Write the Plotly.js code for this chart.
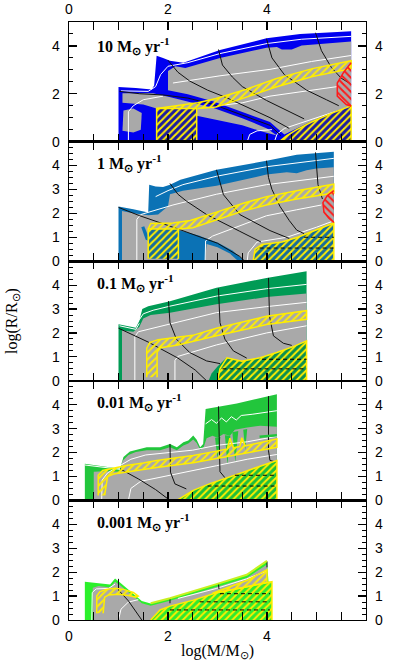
<!DOCTYPE html>
<html><head><meta charset="utf-8">
<script src="https://cdn.plot.ly/plotly-3.0.1.min.js"></script>
<style>html,body{margin:0;padding:0;background:#fff}#chart{width:407px;height:667px}</style>
</head><body><div id="chart"></div>
<script>
// ================= DATA (log M, log R) =================
const rateLabels = ['10', '1', '0.1', '0.01', '0.001'];
const xTickVals = [0, 2, 4];
const yTickValsTop = [0, 2, 4];
const yTickVals = [0, 1, 2, 3, 4];

// ---- panel 1 : 10 Msun/yr ----
const P1_ENV = [[1.0,0],[1.0,2.28],[1.35,2.24],[1.67,2.18],[1.72,2.35],[1.77,3.59],[1.9,3.5],[2.04,3.38],[2.31,3.30],[3.05,3.83],[3.99,4.32],[4.67,4.50],[5.70,4.61],[5.70,0]];
const P1_GRAY_UP = [[2.0,2.15],[2.0,2.95],[2.15,3.15],[2.35,3.08],[3.05,3.5],[3.99,3.92],[4.2,3.95],[4.3,3.85],[4.5,3.85],[4.7,4.02],[5.7,4.18],[5.7,1.5],[5.3,1.2],[4.9,0.85],[4.6,0.55],[4.35,0.3],[4.06,0.82],[3.5,1.25],[2.92,1.68],[2.4,1.98]];
const P1_GRAY_LOW = [[1.08,2.02],[1.7,2.02],[2.05,1.85],[2.4,1.68],[2.92,1.4],[3.5,0.98],[4.0,0.55],[4.2,0.25],[3.9,0.42],[3.5,0.68],[3.0,0.9],[2.58,1.08],[2.58,1.38],[1.77,1.38],[1.5,1.55],[1.08,1.62]];
const P1_GRAY_PATCH = [[1.08,0.45],[1.1,1.3],[1.3,1.38],[1.47,1.2],[1.45,0.5],[1.3,0.38]];
const P1_CORE_L = [[1.77,0],[1.77,1.38],[2.58,1.38],[2.58,0]];
const P1_CORE_R = [[4.25,0],[4.4,0.25],[4.6,0.5],[4.9,0.82],[5.3,1.18],[5.7,1.5],[5.7,0]];
const P1_BAND = [[1.77,1.38],[2.2,1.5],[2.6,1.62],[2.97,1.8],[3.57,2.18],[4.18,2.63],[4.92,3.05],[5.7,3.38],[5.7,3.05],[4.92,2.72],[4.18,2.28],[3.57,1.85],[2.97,1.45],[2.6,1.38]];
const P1_RED = [[5.7,3.3],[5.55,2.9],[5.42,2.45],[5.42,1.9],[5.6,1.55],[5.7,1.48]];
const P1_WHITE = [
  [[1.05,2.12],[1.6,2.1],[1.75,2.3],[1.85,2.8],[2.0,3.15],[2.4,3.3],[3.05,3.68],[4.0,4.1],[4.7,4.28],[5.7,4.4]],
  [[2.1,2.45],[3.05,2.75],[4.06,3.02],[4.9,3.35],[5.7,3.6]],
  [[3.0,1.5],[3.5,1.62],[4.06,1.9],[4.9,2.15],[5.42,2.3]],
  [[1.2,0],[1.2,1.25],[1.3,1.5],[1.5,1.75],[1.9,1.9]],
  [[4.15,0],[4.2,0.3],[4.35,0.55],[4.6,0.72],[5.0,1.0],[5.4,1.27]],
  [[3.6,0],[3.65,0.3],[3.8,0.45],[4.1,0.5]]
];
const P1_BLACK = [
  [[1.02,2.1],[1.43,2.0],[1.9,1.95],[2.4,1.82],[2.92,1.55],[3.6,1.05],[4.06,0.68],[4.28,0.25]],
  [[2.0,3.4],[2.2,2.9],[2.44,2.53],[2.8,2.15],[3.19,1.83],[3.6,1.45],[4.06,1.0],[4.45,0.55]],
  [[3.02,3.85],[3.1,3.2],[3.3,2.7],[3.5,2.3],[3.99,1.72],[4.4,1.3],[4.75,0.95]],
  [[3.99,4.3],[4.1,3.5],[4.35,2.8],[4.8,2.15],[5.2,1.75],[5.45,1.5]],
  [[4.98,4.55],[5.1,3.8],[5.3,3.1],[5.5,2.65],[5.7,2.4]]
];

// ---- panel 2 : 1 Msun/yr ----
const P2_ENV = [[1.0,0],[1.0,2.29],[1.3,2.17],[1.6,2.04],[1.62,3.2],[1.75,3.12],[1.9,3.1],[2.04,3.2],[2.25,3.4],[2.98,3.82],[3.99,4.2],[4.6,4.45],[5.35,4.58],[5.35,0]];
const P2_GRAY = [[1.07,0],[1.07,2.1],[1.3,2.0],[1.6,1.92],[1.8,1.95],[2.0,2.3],[2.04,2.8],[2.3,2.95],[2.98,3.15],[3.99,3.62],[4.4,3.72],[4.6,3.68],[4.8,3.8],[5.0,3.88],[5.35,3.93],[5.35,0]];
const P2_BLUE_WEDGE = [[2.21,1.3],[2.6,1.08],[3.0,0.78],[3.3,0.45],[3.55,0.0],[2.21,0.0]];
const P2_BLUE_SLIVER = [[1.46,1.42],[1.52,1.46],[1.6,1.05],[1.6,0.85],[1.55,0.9]];
const P2_GRAY_WEDGE = [[2.75,0],[2.78,0.72],[3.0,0.58],[3.25,0.32],[3.42,0.0]];
const P2_CORE_L = [[1.6,0.1],[1.6,1.35],[2.21,1.35],[2.21,0.1]];
const P2_CORE_R = [[3.72,0],[3.76,0.5],[3.9,0.7],[4.3,0.8],[4.62,1.0],[5.0,1.3],[5.35,1.6],[5.35,0]];
const P2_BAND = [[1.6,1.35],[1.65,1.58],[2.1,1.6],[2.45,1.7],[2.98,2.05],[3.52,2.42],[3.99,2.7],[4.6,2.95],[5.35,3.22],[5.35,2.85],[4.6,2.6],[3.99,2.35],[3.52,2.1],[2.98,1.72],[2.5,1.4],[2.21,1.35]];
const P2_RED = [[5.35,2.95],[5.22,2.75],[5.13,2.45],[5.15,2.05],[5.25,1.8],[5.35,1.62]];
const P2_WHITE = [
  [[1.75,2.7],[2.0,2.95],[2.3,3.2],[2.98,3.55],[3.99,3.95],[5.35,4.3]],
  [[1.37,0],[1.37,1.75],[1.45,1.95],[1.7,2.1],[2.1,2.35],[2.98,2.8],[3.99,3.2],[5.35,3.55]],
  [[2.75,0],[2.76,0.85],[2.9,1.05],[3.3,1.35],[3.99,1.9],[4.6,2.15],[5.1,2.35]],
  [[3.6,0],[3.62,0.35],[3.8,0.8],[4.4,1.0],[5.0,1.42],[5.3,1.65]]
];
const P2_BLACK = [
  [[1.0,2.25],[1.43,1.9],[2.2,1.35],[3.0,0.75],[3.45,0.2],[3.55,0.0]],
  [[2.04,3.25],[2.2,2.8],[2.38,2.5],[2.78,1.95],[3.45,1.25],[3.88,0.8]],
  [[2.98,3.82],[3.05,3.3],[3.12,2.78],[3.45,1.95],[4.06,1.28],[4.45,0.95]],
  [[3.99,4.2],[4.03,3.5],[4.1,3.0],[4.26,2.3],[4.45,1.7],[4.6,1.3],[4.75,1.15]],
  [[4.98,4.55],[5.0,3.8],[5.03,3.2],[5.12,2.6]]
];
const P2_DASHED = [[[4.75,1.0],[5.35,1.0]], [[3.85,0.55],[5.35,0.55]]];

// ---- panel 3 : 0.1 Msun/yr ----
const P3_ENV = [[1.0,0],[1.0,2.36],[1.2,2.28],[1.35,2.22],[1.42,2.5],[1.48,3.0],[1.6,3.12],[2.04,3.33],[2.98,3.89],[3.99,4.3],[4.8,4.58],[4.8,0]];
const P3_GRAY = [[1.07,0],[1.07,2.1],[1.3,2.05],[1.42,2.25],[1.5,2.6],[1.65,2.75],[2.04,2.85],[2.98,3.2],[3.99,3.5],[4.8,3.65],[4.8,0]];
const P3_GREEN = [[2.82,0],[2.88,0.3],[3.0,0.6],[3.19,0.98],[3.19,0]];
const P3_CORE = [[3.0,0],[3.05,0.5],[3.19,0.96],[3.3,0.92],[3.49,0.82],[3.86,0.96],[4.2,1.18],[4.53,1.43],[4.8,1.67],[4.8,0]];
const P3_BAND = [[1.57,0.15],[1.57,1.35],[1.63,1.6],[1.8,1.72],[2.5,1.9],[2.98,2.2],[3.99,2.7],[4.8,2.93],[4.8,2.57],[3.99,2.35],[2.98,1.88],[2.2,1.5],[1.85,1.38],[1.78,1.2],[1.78,0.15]];
const P3_WHITE = [
  [[1.42,2.55],[1.5,2.8],[1.7,2.95],[2.04,3.12],[2.98,3.54],[3.99,3.85],[4.8,4.03]],
  [[1.33,0],[1.33,1.85],[1.4,2.05],[1.6,2.15],[2.04,2.4],[2.98,2.85],[3.99,3.1],[4.8,3.28]],
  [[2.14,0],[2.14,0.85],[2.2,1.02],[2.5,1.2],[2.98,1.5],[3.99,2.0],[4.8,2.3]],
  [[1.02,2.3],[1.35,2.15],[1.42,2.4]]
];
const P3_BLACK = [
  [[1.0,2.2],[1.6,1.62],[2.2,0.95],[2.55,0.45],[2.78,0.0]],
  [[2.01,3.33],[2.04,2.43],[2.17,1.74],[2.44,1.18],[2.78,0.83],[3.05,0.72]],
  [[3.02,3.86],[3.05,2.43],[3.15,1.74],[3.32,1.25],[3.59,0.95]],
  [[4.03,4.3],[4.05,2.71],[4.13,1.88],[4.33,1.57],[4.5,1.48]]
];
const P3_DASHED = [[[3.9,0.9],[4.8,0.9]], [[3.1,0.5],[4.8,0.5]]];

// ---- panel 4 : 0.01 Msun/yr ----
const P4_ENV = [[0.32,0],[0.32,1.53],[1.03,1.32],[1.1,1.81],[1.23,2.04],[1.57,2.22],[1.84,2.22],[2.04,2.36],[2.18,2.22],[2.31,2.43],[2.41,2.5],[2.51,2.71],[2.58,2.54],[2.65,2.22],[2.71,2.36],[2.76,3.82],[3.39,4.05],[4.2,4.44],[4.2,0]];
const P4_GRAY = [[0.5,0],[0.5,1.2],[0.7,1.22],[1.03,1.2],[1.08,1.65],[1.2,1.9],[1.35,2.02],[1.57,2.1],[1.84,2.1],[2.04,2.22],[2.18,2.1],[2.31,2.3],[2.41,2.38],[2.51,2.55],[2.58,2.4],[2.65,2.12],[2.72,2.22],[2.78,2.6],[2.9,2.7],[3.0,2.62],[3.12,2.78],[3.25,2.7],[3.35,2.95],[3.45,2.99],[3.6,3.05],[3.86,3.12],[4.2,3.08],[4.2,0]];
const P4_SPIKES = [
  [[2.95,2.62],[3.0,1.75],[3.06,2.65]],
  [[3.15,2.72],[3.2,1.5],[3.26,2.7]],
  [[3.3,2.85],[3.36,1.6],[3.42,2.9]],
  [[3.52,2.95],[3.56,2.1],[3.6,2.98]]
];
const P4_GREEN_LINE = [[3.85,2.66],[4.2,2.72]];
const P4_CORE = [[2.18,0],[2.51,0.42],[2.85,0.7],[3.19,0.93],[3.52,1.18],[3.86,1.43],[4.2,1.67],[4.2,0]];
const P4_BAND = [[0.59,0.21],[0.59,1.05],[0.68,1.25],[0.9,1.35],[1.16,1.46],[1.5,1.56],[1.77,1.67],[2.1,1.76],[2.51,1.88],[2.98,2.06],[3.2,2.15],[3.25,2.6],[3.32,2.2],[3.45,2.25],[3.49,2.62],[3.56,2.28],[3.9,2.45],[4.2,2.57],[4.2,2.22],[3.59,1.98],[2.98,1.76],[2.51,1.57],[1.77,1.38],[1.16,1.18],[0.9,1.1],[0.78,1.0],[0.72,0.21]];
const P4_WHITE = [
  [[2.76,3.2],[2.88,3.38],[2.98,3.22],[3.08,3.45],[3.18,3.28],[3.28,3.5],[3.38,3.36],[3.48,3.55],[3.7,3.6],[4.2,3.75]],
  [[0.32,1.48],[1.03,1.3]],
  [[0.66,0],[0.67,0.85],[0.78,1.15],[1.0,1.4],[1.25,1.72],[1.55,1.9],[2.0,1.98],[2.5,2.1],[2.98,2.3],[3.6,2.45],[4.2,2.68]],
  [[1.2,0],[1.25,0.5],[1.45,0.8],[1.9,1.0],[2.5,1.25],[2.98,1.45],[3.6,1.72],[4.2,1.92]]
];
const P4_BLACK = [
  [[1.03,1.32],[1.4,0.9],[1.75,0.45],[2.04,0.0]],
  [[2.04,2.36],[2.05,1.18],[2.14,0.69],[2.37,0.48]],
  [[3.02,3.93],[3.03,2.5],[3.05,1.2],[3.15,0.95]],
  [[4.03,4.36],[4.03,2.08],[4.06,1.67],[4.15,1.62]]
];
const P4_DASHED = [[[2.8,0.6],[4.2,0.6]], [[3.35,1.05],[4.2,1.05]]];

// ---- panel 5 : 0.001 Msun/yr ----
const P5_ENV = [[0.32,0],[0.32,1.6],[0.83,1.48],[0.93,1.74],[1.03,1.57],[1.47,0.79],[1.65,0.69],[2.04,0.9],[2.98,1.49],[3.59,1.88],[4.0,2.46],[4.03,1.6],[4.1,1.6],[4.1,0]];
const P5_GRAY = [[0.48,0],[0.48,1.35],[0.6,1.42],[0.83,1.36],[0.93,1.6],[1.03,1.45],[1.47,0.7],[1.65,0.6],[2.04,0.8],[2.98,1.38],[3.59,1.76],[4.0,2.32],[4.0,0]];
const P5_CORE = [[1.65,0],[1.84,0.42],[2.04,0.58],[2.51,0.83],[2.98,1.14],[3.59,1.39],[4.0,1.57],[4.1,1.6],[4.1,0]];
const P5_BAND_R = [[2.9,1.12],[3.59,1.65],[4.0,2.1],[4.0,1.57],[3.59,1.39],[2.98,1.14]];
const P5_BAND_L = [[0.56,0.28],[0.56,1.0],[0.62,1.18],[0.75,1.28],[0.93,1.33],[1.1,1.28],[1.3,1.15],[1.4,1.0],[1.35,0.95],[1.2,1.02],[1.0,1.08],[0.8,1.05],[0.72,0.95],[0.69,0.28]];
const P5_TOPLINE = [[1.65,0.7],[2.04,0.91],[2.98,1.5],[3.59,1.89],[4.0,2.47]];
const P5_WHITE = [
  [[0.46,0],[0.47,1.15],[0.55,1.3],[0.8,1.32],[0.93,1.5]],
  [[2.2,0.9],[2.98,1.32],[3.59,1.72],[4.0,2.05]],
  [[1.0,0],[1.05,0.45],[1.2,0.75],[1.4,0.85]]
];
const P5_BLACK = [
  [[1.0,1.72],[1.0,1.25],[1.2,0.8],[1.47,0.0]],
  [[2.04,0.88],[2.04,0.7]],
  [[3.02,1.5],[3.03,1.3]],
  [[4.0,2.45],[4.0,2.2]]
];
const P5_DASHED = [[[3.05,1.1],[4.06,1.1]], [[2.64,0.76],[4.06,0.76]], [[2.04,0.42],[4.06,0.42]]];

// ================= STYLE =================
const ENV_COLORS = ['#0000f0', '#0b72b5', '#009b55', '#22c63c', '#2bf02b'];
const CORE_BG = ['#1c1ca0', '#166c9c', '#0a8f50', '#1fbf39', '#30ea30'];
const GRAY = '#a9a9a9';
const YEL = '#ffee00';
const RED = '#ff1a1a';
const SERIF = '"Liberation Serif", "Times New Roman", serif';
const SANS = '"Liberation Sans", Arial, Helvetica, sans-serif';

function axn(i) { return {x: i === 0 ? 'x' : 'x' + (i + 1), y: i === 0 ? 'y' : 'y' + (i + 1)}; }
const traces = [];
function add(pts, i, style) {
  const a = axn(i);
  const t = {type: 'scatter', mode: 'lines', x: pts.map(p => p[0]), y: pts.map(p => p[1]),
    xaxis: a.x, yaxis: a.y, hoverinfo: 'skip', showlegend: false};
  Object.assign(t, style);
  traces.push(t);
}
const solid = c => ({fill: 'toself', fillcolor: c, line: {width: 0, color: c}});
function hatch(fg, bg, outline, shape) {
  const fp = {shape: shape, fgcolor: fg, size: 5, solidity: 0.4};
  if (bg) fp.bgcolor = bg;
  return {fill: 'toself', fillcolor: bg || 'rgba(0,0,0,0)', fillpattern: fp, line: {width: 1.5, color: outline}};
}
const wline = {line: {color: '#ffffff', width: 1}};
const bline = {line: {color: '#111111', width: 1}};
const dline = {line: {color: '#000000', width: 1, dash: '4px,3px'}};

const PANELS = [
  {env: P1_ENV, grays: [P1_GRAY_UP, P1_GRAY_LOW, P1_GRAY_PATCH], extra: [], extraGray: [], white: P1_WHITE, black: P1_BLACK,
   cores: [P1_CORE_L, P1_CORE_R], bands: [P1_BAND], red: [P1_RED], dashed: []},
  {env: P2_ENV, grays: [P2_GRAY], extra: [P2_BLUE_WEDGE, P2_BLUE_SLIVER], extraGray: [P2_GRAY_WEDGE], white: P2_WHITE, black: P2_BLACK,
   cores: [P2_CORE_L, P2_CORE_R], bands: [P2_BAND], red: [P2_RED], dashed: P2_DASHED},
  {env: P3_ENV, grays: [P3_GRAY], extra: [P3_GREEN], extraGray: [], white: P3_WHITE, black: P3_BLACK,
   cores: [P3_CORE], bands: [P3_BAND], red: [], dashed: P3_DASHED},
  {env: P4_ENV, grays: [P4_GRAY], extra: P4_SPIKES, extraGray: [], white: P4_WHITE, black: P4_BLACK,
   cores: [P4_CORE], bands: [P4_BAND], red: [], dashed: P4_DASHED},
  {env: P5_ENV, grays: [P5_GRAY], extra: [], extraGray: [], white: P5_WHITE, black: P5_BLACK,
   cores: [P5_CORE], bands: [P5_BAND_L, P5_BAND_R], red: [], dashed: P5_DASHED}
];

PANELS.forEach((p, i) => {
  add(p.env, i, solid(ENV_COLORS[i]));
  p.grays.forEach(g => add(g, i, solid(GRAY)));
  p.extra.forEach(g => add(g, i, solid(ENV_COLORS[i])));
  p.extraGray.forEach(g => add(g, i, solid(GRAY)));
  p.white.forEach(l => add(l, i, wline));
  p.black.forEach(l => add(l, i, bline));
  p.cores.forEach(c => add(c, i, hatch(YEL, CORE_BG[i], YEL, '/')));
  p.bands.forEach(b => add(b, i, hatch(YEL, null, YEL, '/')));
  p.red.forEach(r => add(r, i, hatch(RED, null, RED, '\\')));
  p.dashed.forEach(d => add(d, i, dline));
  if (i === 3) add(P4_GREEN_LINE, i, {line: {color: ENV_COLORS[3], width: 2.5}});
  if (i === 4) add(P5_TOPLINE, i, {line: {color: '#c8f020', width: 2}});
  // dummy trace for right-hand label axis
  traces.push({type: 'scatter', mode: 'markers', x: [null], y: [null], xaxis: axn(i).x, yaxis: 'y' + (6 + i), hoverinfo: 'skip', showlegend: false});
});

const layout = {
  width: 407, height: 667, margin: {l: 69, r: 41, t: 22, b: 47},
  paper_bgcolor: '#ffffff', plot_bgcolor: '#ffffff', showlegend: false,
  font: {family: SANS, size: 14, color: '#000'},
  annotations: []
};
PANELS.forEach((p, i) => {
  const a = axn(i);
  const xk = i === 0 ? 'xaxis' : 'xaxis' + (i + 1);
  const yk = i === 0 ? 'yaxis' : 'yaxis' + (i + 1);
  const ylab = i === 0 ? yTickValsTop : yTickVals;
  layout[xk] = {
    domain: [0, 1], anchor: a.y, range: [0, 6], tickmode: 'array', tickvals: xTickVals,
    ticks: 'inside', ticklen: 8, tickwidth: 1.2, tickcolor: '#000', mirror: 'allticks',
    showline: true, linewidth: 1.3, linecolor: '#000', showgrid: false, zeroline: false,
    showticklabels: (i === 0 || i === 4), side: i === 0 ? 'top' : 'bottom', ticklabelstandoff: i === 0 ? 1 : 3,
    tickfont: {family: SANS, size: 14, color: '#000'},
    minor: {ticks: 'inside', tick0: 0, dtick: 0.5, ticklen: 4, tickwidth: 1, tickcolor: '#000', showgrid: false},
    fixedrange: true
  };
  layout[yk] = {
    domain: [1 - (i + 1) / 5, 1 - i / 5], anchor: a.x, range: [0, 5], tickmode: 'array', tickvals: ylab,
    ticks: 'inside', ticklen: 8, tickwidth: 1.2, tickcolor: '#000', mirror: 'allticks',
    showline: true, linewidth: 1.3, linecolor: '#000', showgrid: false, zeroline: false,
    side: 'left', ticklabelstandoff: 5, tickfont: {family: SANS, size: 14, color: '#000'},
    minor: {ticks: 'inside', tick0: 0, dtick: i === 0 ? 0.5 : 0.25, ticklen: 4, tickwidth: 1, tickcolor: '#000', showgrid: false},
    fixedrange: true
  };
  layout['yaxis' + (6 + i)] = {
    overlaying: a.y, side: 'right', anchor: a.x, range: [0, 5], tickmode: 'array', tickvals: ylab,
    ticks: '', showline: false, showgrid: false, zeroline: false, ticklabelstandoff: 8,
    tickfont: {family: SANS, size: 14, color: '#000'}, fixedrange: true
  };
  layout.annotations.push({
    xref: a.x, yref: a.y, x: 0.52, y: i === 0 ? 4.0 : 4.1, xanchor: 'left', yanchor: 'middle', showarrow: false,
    text: '<b>' + rateLabels[i] + ' M<sub>⊙</sub> yr<sup>-1</sup></b>',
    font: {family: SERIF, size: 16, color: '#000'}
  });
});
layout.annotations.push({
  xref: 'paper', yref: 'paper', x: 0.5, y: -0.053, xanchor: 'center', yanchor: 'middle', showarrow: false,
  text: 'log(M/M<sub>⊙</sub>)', font: {family: SERIF, size: 16, color: '#000'}
});
layout.annotations.push({
  xref: 'paper', yref: 'paper', x: -0.192, y: 0.5, xanchor: 'center', yanchor: 'middle', showarrow: false,
  textangle: -90, text: 'log(R/R<sub>⊙</sub>)', font: {family: SERIF, size: 16, color: '#000'}
});

Plotly.newPlot('chart', traces, layout, {staticPlot: true, displayModeBar: false});
</script>
</body></html>
